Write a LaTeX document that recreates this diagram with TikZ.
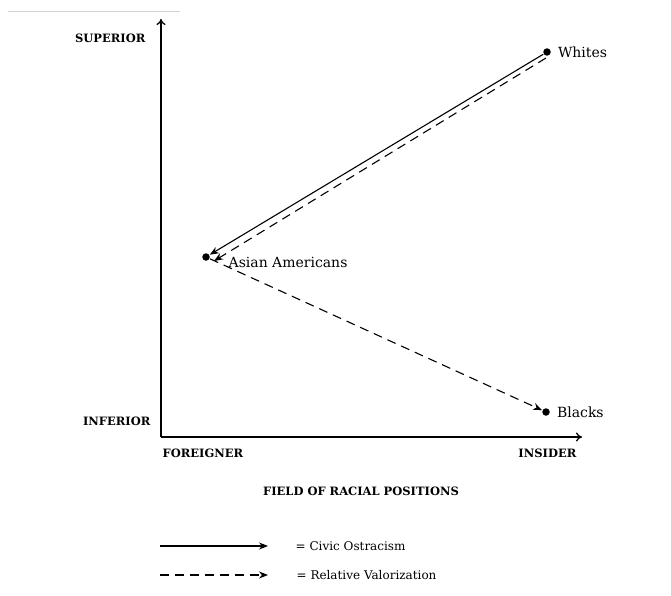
\documentclass[tikz,border=0pt]{standalone}
\usepackage{fontspec}
\setmainfont{DejaVu Serif}
\usetikzlibrary{arrows.meta,positioning}
\tikzset{
  group/.style={circle, fill=black, inner sep=0pt, minimum size=7.5pt},
  grouplabel/.style={font=\fontsize{14}{16}\selectfont, inner sep=0pt},
  axislabel/.style={font=\bfseries\fontsize{11.5}{13}\selectfont, inner sep=0pt},
  legendlabel/.style={font=\fontsize{12}{14}\selectfont, inner sep=0pt, anchor=west},
  civic/.style={-{Stealth[length=9pt,width=7pt]}, line width=1.1pt},
  valor/.style={-{Stealth[length=9pt,width=7pt]}, line width=1.1pt, dash pattern=on 9pt off 6pt},
}

\begin{document}
\begin{tikzpicture}[x=1pt,y=-1pt, line width=1.3pt]
    \useasboundingbox (0,0) rectangle (671,596);
    \draw[gray!35, line width=1pt] (8,12) -- (180,12);
    % axes
    \coordinate (origin) at (161,437);
    \coordinate (ytop) at (161,19);
    \coordinate (xend) at (582,437);
    \draw[-{To[length=6pt,width=9pt]}] (origin) -- (ytop);
    \draw[-{To[length=6pt,width=9pt]}] (origin) -- (xend);
    \node (sup) [axislabel, anchor=east] at (146,38) {SUPERIOR};
    \node (inf) [axislabel, anchor=east] at (151,421) {INFERIOR};
    \node (for) [axislabel, anchor=west] at (162,453) {FOREIGNER};
    \node (ins) [axislabel, anchor=east] at (577,453) {INSIDER};
    \node (field) [axislabel] at (361,491) {FIELD OF RACIAL POSITIONS};
    % groups
    \node (whites) [group] at (547,52) {};
    \node (asian) [group] at (206,257) {};
    \node (blacks) [group] at (546,412) {};
    \node (whiteslbl) [grouplabel, right=6pt of whites] {Whites};
    \node (asianlbl) [grouplabel, anchor=west] at (228,262) {Asian Americans};
    \node (blackslbl) [grouplabel, right=6pt of blacks] {Blacks};
    \draw[civic] (whites) -- (asian);
    \draw[valor] ([shift={(-1,6)}]whites.center) -- ([shift={(8,4)}]asian.center);
    \draw[valor] (asian) -- (blacks);
    % legend
    \coordinate (civA) at (160,546);
    \coordinate (civB) at (268,546);
    \coordinate (valA) at (160,575);
    \coordinate (valB) at (268,575);
    \draw[civic] (civA) -- (civB);
    \draw[valor] (valA) -- (valB);
    \node (civlbl) [legendlabel] at (295,546) {= Civic Ostracism};
    \node (vallbl) [legendlabel] at (296,575) {= Relative Valorization};
\end{tikzpicture}
\end{document}
